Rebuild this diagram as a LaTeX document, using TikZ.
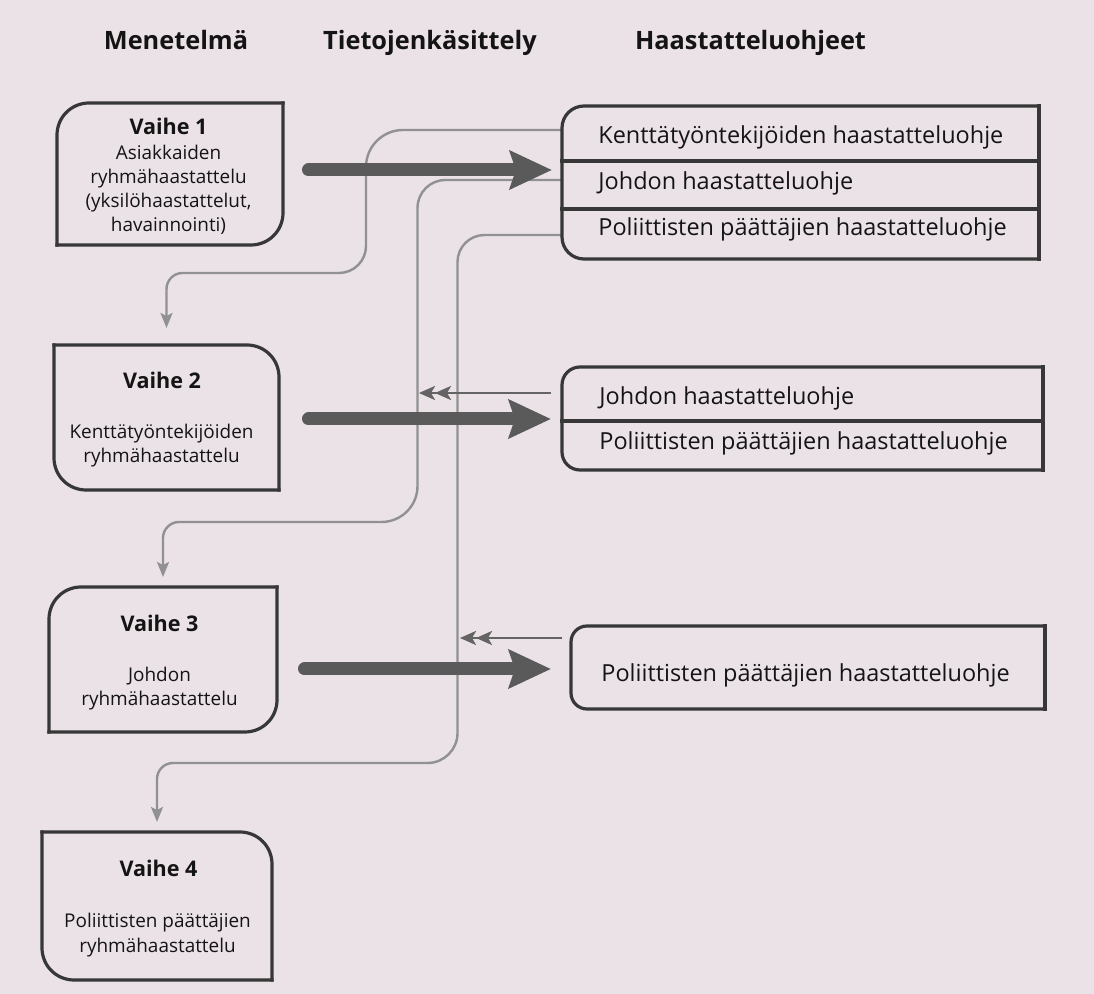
\documentclass[tikz,border=0pt]{standalone}
\usepackage{fontspec}
\setmainfont{Open Sans}
\usetikzlibrary{arrows.meta,calc}
\definecolor{paper}{RGB}{235,226,231}
\definecolor{framec}{RGB}{55,55,55}
\definecolor{thickc}{RGB}{90,90,90}
\definecolor{connc}{RGB}{145,145,145}
\definecolor{backc}{RGB}{100,100,100}
\definecolor{inkc}{RGB}{20,20,20}
\newlength\calw
\newcommand\calsize[3]{\settowidth\calw{\fontsize{10pt}{12pt}\selectfont #3}\pgfmathsetmacro#1{10*#2/\calw}\global\let#1#1}
\AtBeginDocument{%
\calsize\hsz{115.5}{\bfseries Haastatteluohjeet}%
\calsize\vsz{39}{\bfseries Vaihe 2}%
\calsize\bsz{92}{Kenttätyöntekijöiden}%
\calsize\rsz{202.5}{Kenttätyöntekijöiden haastatteluohje}%
}
\begin{document}
\begin{tikzpicture}[x=0.5pt,y=-0.5pt,
  hdr/.style={font=\fontsize{\hsz pt}{\hsz pt}\selectfont\bfseries, text=inkc, inner sep=0pt, anchor=base},
  vtitle/.style={font=\fontsize{\vsz pt}{\vsz pt}\selectfont\bfseries, text=inkc, inner sep=0pt, anchor=base},
  vbody/.style={font=\fontsize{\bsz pt}{\bsz pt}\selectfont, text=inkc, inner sep=0pt, anchor=base},
  rtext/.style={font=\fontsize{\rsz pt}{\rsz pt}\selectfont, text=inkc, inner sep=0pt, anchor=base west},
  boxarea/.style={draw=none, rectangle, inner sep=0pt, outer sep=0pt},
  frame/.style={draw=framec, line width=1.6pt, line cap=rect, line join=miter},
  bigarrow/.style={draw=thickc, line width=6.5pt, line cap=round, -{Stealth[length=21pt,width=19pt,inset=3pt]}},
  conn/.style={draw=connc, line width=1.2pt, -{Stealth[length=7.5pt,width=6pt,inset=1.5pt]}},
  back/.style={draw=backc, line width=1.4pt, -{Stealth[length=8pt,width=7pt,inset=2pt] Stealth[length=8pt,width=7pt,inset=2pt]}}
]
\fill[paper] (0,0) rectangle (1094,994);
\useasboundingbox (0,0) rectangle (1094,994);

% box areas
\node[boxarea, minimum width=113pt, minimum height=71pt] (v1) at (170,174) {};
\node[boxarea, minimum width=112.5pt, minimum height=72.5pt] (v2) at (166.5,417.5) {};
\node[boxarea, minimum width=114pt, minimum height=72.5pt] (v3) at (163,659.5) {};
\node[boxarea, minimum width=115pt, minimum height=74pt] (v4) at (157,906) {};
\node[boxarea, minimum width=238.5pt, minimum height=76.5pt] (hA) at (800.5,182.5) {};
\node[boxarea, minimum width=240.5pt, minimum height=51.5pt] (hB) at (802.5,418.5) {};
\node[boxarea, minimum width=237pt, minimum height=41.5pt] (hC) at (808,667.5) {};

% helper coordinates
\coordinate (c1y) at (0,130);
\coordinate (c2y) at (0,180);
\coordinate (c3y) at (0,235);
\coordinate (ta1) at (0,170);
\coordinate (ta2) at (0,419);
\coordinate (ta3) at (0,669);
\coordinate (dA1) at (0,161);
\coordinate (dA2) at (0,209);
\coordinate (dB1) at (0,421);
\coordinate (da1e) at (419,393);
\coordinate (da2e) at (460,638);

% thin connectors
\draw[conn, shorten >=8.5pt] (hA.west |- c1y) -- (403,130)
  .. controls (382.6,130) and (366,146.6) .. (366,167) -- (366,246)
  .. controls (366,260.9) and (353.9,273) .. (339,273) -- (182.5,273)
  .. controls (173.7,273) and (166.5,280.2) .. (166.5,289) -- (v2.north);
\draw[conn, shorten >=5pt] (hA.west |- c2y) -- (445.5,180)
  .. controls (430,180) and (417.5,192.5) .. (417.5,208) -- (417.5,486)
  .. controls (417.5,505.9) and (401.4,522) .. (381.5,522) -- (179,522)
  .. controls (170.2,522) and (163,529.2) .. (163,538) -- (v3.north);
\draw[conn, shorten >=5pt] (hA.west |- c3y) -- (484.5,235)
  .. controls (469.6,235) and (457.5,247.1) .. (457.5,262) -- (457.5,733)
  .. controls (457.5,749.6) and (444.1,763) .. (427.5,763) -- (173,763)
  .. controls (164.2,763) and (157,770.2) .. (157,779) -- (v4.north);

% feedback double arrows
\draw[back, shorten <=5.5pt] (hB.west |- da1e) -- (da1e);
\draw[back, shorten <=4.5pt] (hC.west |- da2e) -- (da2e);

% thick arrows
\draw[bigarrow, shorten <=12.75pt, shorten >=5pt] (v1.east |- ta1) -- (hA.west |- ta1);
\draw[bigarrow, shorten <=14.75pt, shorten >=5.5pt] (v2.east |- ta2) -- (hB.west |- ta2);
\draw[bigarrow, shorten <=13.75pt, shorten >=10pt] (v3.east |- ta3) -- (hC.west |- ta3);

% left frames
\draw[frame, rounded corners=16pt] (v1.north east) -- (v1.south east) -- (v1.south west);
\draw[frame, rounded corners=16pt] (v1.south west) -- (v1.north west) -- (v1.north east);
\draw[frame, rounded corners=16pt] (v2.north west) -- (v2.north east) -- (v2.south east);
\draw[frame, rounded corners=16pt] (v2.south east) -- (v2.south west) -- (v2.north west);
\draw[frame, rounded corners=16pt] (v3.north east) -- (v3.south east) -- (v3.south west);
\draw[frame, rounded corners=16pt] (v3.south west) -- (v3.north west) -- (v3.north east);
\draw[frame, rounded corners=16pt] (v4.north west) -- (v4.north east) -- (v4.south east);
\draw[frame, rounded corners=16pt] (v4.south east) -- (v4.south west) -- (v4.north west);

% right frames
\draw[frame, rounded corners=11pt] (hA.north east) -- (hA.north west) -- (hA.south west) -- (hA.south east);
\draw[frame] (hA.south east) -- (hA.north east);
\draw[frame] (hA.west |- dA1) -- (hA.east |- dA1);
\draw[frame] (hA.west |- dA2) -- (hA.east |- dA2);
\draw[frame, rounded corners=9pt] (hB.north east) -- (hB.north west) -- (hB.south west) -- (hB.south east);
\draw[frame] (hB.south east) -- (hB.north east);
\draw[frame] (hB.west |- dB1) -- (hB.east |- dB1);
\draw[frame, rounded corners=8pt] (hC.north east) -- (hC.north west) -- (hC.south west) -- (hC.south east);
\draw[frame] (hC.south east) -- (hC.north east);

% headers
\node[hdr] (h1) at (176,50) {Menetelmä};
\node[hdr] (h2) at (430,50) {Tietojenkäsittely};
\node[hdr] (h3) at (750.5,50) {Haastatteluohjeet};

% left texts
\node[vtitle] (v1t) at (168.5,135) {Vaihe 1};
\node[vbody] (v1a) at (168.5,160) {Asiakkaiden};
\node[vbody] (v1b) at (168.5,184) {ryhmähaastattelu};
\node[vbody] (v1c) at (168.5,208) {(yksilöhaastattelut,};
\node[vbody] (v1d) at (168.5,232) {havainnointi)};
\node[vtitle] (v2t) at (162,389) {Vaihe 2};
\node[vbody] (v2a) at (161.5,439) {Kenttätyöntekijöiden};
\node[vbody] (v2b) at (161.5,463) {ryhmähaastattelu};
\node[vtitle] (v3t) at (159.5,632) {Vaihe 3};
\node[vbody] (v3a) at (159.5,682) {Johdon};
\node[vbody] (v3b) at (159.5,706) {ryhmähaastattelu};
\node[vtitle] (v4t) at (158.5,877) {Vaihe 4};
\node[vbody] (v4a) at (157.5,928) {Poliittisten päättäjien};
\node[vbody] (v4b) at (157.5,952) {ryhmähaastattelu};

% right texts
\node[rtext] (hA1) at (598,144) {Kenttätyöntekijöiden haastatteluohje};
\node[rtext] (hA2) at (598,190) {Johdon haastatteluohje};
\node[rtext] (hA3) at (598,236) {Poliittisten päättäjien haastatteluohje};
\node[rtext] (hB1) at (599,405) {Johdon haastatteluohje};
\node[rtext] (hB2) at (599,450) {Poliittisten päättäjien haastatteluohje};
\node[rtext] (hC1) at (601,682) {Poliittisten päättäjien haastatteluohje};
\end{tikzpicture}
\end{document}
